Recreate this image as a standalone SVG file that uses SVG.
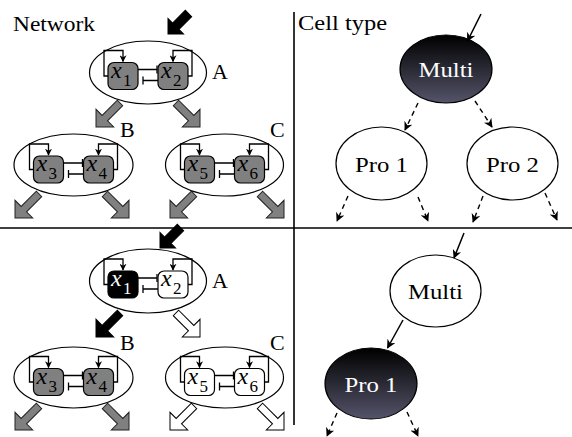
<svg xmlns="http://www.w3.org/2000/svg" xmlns:xlink="http://www.w3.org/1999/xlink" width="572" height="437" viewBox="0 0 572 437">
<style>
.lbl{font-size:22px;fill:#000}
.mx{font-style:italic;font-size:24px}
.sub{font-size:17px}
.mod{fill:#fff;stroke:#000;stroke-width:1.2}
.box{stroke:#000;stroke-width:1.2}
.gray{fill:#808080}
.blk{fill:#000}
.wht{fill:#fff}
.ln{fill:none;stroke:#000;stroke-width:1.3}
.fg{fill:#808080;stroke:#222;stroke-width:1}
.fb{fill:#000;stroke:#000;stroke-width:1}
.fw{fill:#fff;stroke:#000;stroke-width:1}
.dash{fill:none;stroke:#000;stroke-width:1.4;stroke-dasharray:5 4}
.sol{fill:none;stroke:#000;stroke-width:1.5}
.cell{stroke:#000;stroke-width:1.2}
.div{stroke:#000;stroke-width:1.6}
</style>
<defs>
<linearGradient id="dark" x1="0" y1="0" x2="0" y2="1">
<stop offset="0" stop-color="#000"/>
<stop offset="1" stop-color="#54546a"/>
</linearGradient>
<marker id="ah" viewBox="0 0 10 10" refX="9" refY="5" markerWidth="9" markerHeight="9" markerUnits="userSpaceOnUse" orient="auto">
<path d="M0,0 L10,5 L0,10 L3,5 Z" fill="#000"/>
</marker>
<marker id="sa" viewBox="0 0 10 10" refX="9" refY="5" markerWidth="7" markerHeight="7" markerUnits="userSpaceOnUse" orient="auto">
<path d="M0,0 L10,5 L0,10 L3,5 Z" fill="#000"/>
</marker>
<path id="fat" d="M-34,-3.8 L-12.5,-3.8 L-12.5,-12.5 L0,0 L-12.5,12.5 L-12.5,3.8 L-34,3.8 Z"/>
<path id="fatS" d="M-29,-4.5 L-11,-4.5 L-11,-11 L0,0 L-11,11 L-11,4.5 L-29,4.5 Z"/>
</defs>

<g id="dividers">
<line class="div" x1="0" y1="228" x2="572" y2="228"/>
<line class="div" x1="294" y1="12" x2="294" y2="425"/>
</g>

<g font-family="Liberation Serif, Noto Serif, DejaVu Serif, FreeSerif, Times, serif">
<text class="lbl" x="13" y="31" textLength="82" lengthAdjust="spacingAndGlyphs">Network</text>
<text class="lbl" x="298" y="30" textLength="89" lengthAdjust="spacingAndGlyphs">Cell type</text>

<g id="modA-top" transform="translate(148,72.5)">
<ellipse class="mod" cx="0" cy="0" rx="58.5" ry="31.5"/>
<rect class="box gray" x="-40" y="-10" width="30" height="27" rx="6"/>
<rect class="box gray" x="10" y="-10" width="30" height="27" rx="6"/>
<path class="ln" d="M-40,3.5 H-44 V-22 H-25 V-11" marker-end="url(#sa)"/>
<path class="ln" d="M40,3.5 H44 V-22 H25 V-11" marker-end="url(#sa)"/>
<path class="ln" d="M-10,-3 H9 M9,-7 V1"/>
<path class="ln" d="M10,8 H-5 M-5,4 V12"/>
<text class="mx" x="-37" y="5">x</text><text class="sub" x="-25" y="13">1</text>
<text class="mx" x="13" y="5">x</text><text class="sub" x="25" y="13">2</text>
<text class="lbl" x="64" y="6.5">A</text>
</g>

<g id="modB-top" transform="translate(73.5,165)">
<ellipse class="mod" cx="0" cy="0" rx="59.5" ry="31"/>
<rect class="box gray" x="-40" y="-9" width="30" height="27" rx="6"/>
<rect class="box gray" x="10" y="-9" width="30" height="27" rx="6"/>
<path class="ln" d="M-40,4.5 H-44 V-21 H-25 V-10" marker-end="url(#sa)"/>
<path class="ln" d="M40,4.5 H44 V-21 H25 V-10" marker-end="url(#sa)"/>
<path class="ln" d="M-10,-2 H9 M9,-6 V2"/>
<path class="ln" d="M10,9 H-5 M-5,5 V13"/>
<text class="mx" x="-37" y="6">x</text><text class="sub" x="-25" y="14">3</text>
<text class="mx" x="13" y="6">x</text><text class="sub" x="25" y="14">4</text>
<text class="lbl" x="46.5" y="-28">B</text>
</g>

<g id="modC-top" transform="translate(224.5,165)">
<ellipse class="mod" cx="0" cy="0" rx="59" ry="31"/>
<rect class="box gray" x="-40" y="-9" width="30" height="27" rx="6"/>
<rect class="box gray" x="10" y="-9" width="30" height="27" rx="6"/>
<path class="ln" d="M-40,4.5 H-44 V-21 H-25 V-10" marker-end="url(#sa)"/>
<path class="ln" d="M40,4.5 H44 V-21 H25 V-10" marker-end="url(#sa)"/>
<path class="ln" d="M-10,-2 H9 M9,-6 V2"/>
<path class="ln" d="M10,9 H-5 M-5,5 V13"/>
<text class="mx" x="-37" y="6">x</text><text class="sub" x="-25" y="14">5</text>
<text class="mx" x="13" y="6">x</text><text class="sub" x="25" y="14">6</text>
<text class="lbl" x="45.5" y="-28">C</text>
</g>

<g id="modA-bot" transform="translate(148,281)">
<ellipse class="mod" cx="0" cy="0" rx="58.5" ry="32"/>
<rect class="box blk" x="-40" y="-10" width="30" height="27" rx="6"/>
<rect class="box wht" x="10" y="-10" width="30" height="27" rx="6"/>
<path class="ln" d="M-40,3.5 H-44 V-22 H-25 V-11" marker-end="url(#sa)"/>
<path class="ln" d="M40,3.5 H44 V-22 H25 V-11" marker-end="url(#sa)"/>
<path class="ln" d="M-10,-3 H9 M9,-7 V1"/>
<path class="ln" d="M10,8 H-5 M-5,4 V12"/>
<text class="mx" x="-37" y="5" style="fill:#fff">x</text><text class="sub" x="-25" y="13" style="fill:#fff">1</text>
<text class="mx" x="13" y="5">x</text><text class="sub" x="25" y="13">2</text>
<text class="lbl" x="64" y="7">A</text>
</g>

<g id="modB-bot" transform="translate(73.5,377.5)">
<ellipse class="mod" cx="0" cy="0" rx="59.5" ry="30.5"/>
<rect class="box gray" x="-40" y="-9" width="30" height="27" rx="6"/>
<rect class="box gray" x="10" y="-9" width="30" height="27" rx="6"/>
<path class="ln" d="M-40,4.5 H-44 V-21 H-25 V-10" marker-end="url(#sa)"/>
<path class="ln" d="M40,4.5 H44 V-21 H25 V-10" marker-end="url(#sa)"/>
<path class="ln" d="M-10,-2 H9 M9,-6 V2"/>
<path class="ln" d="M10,9 H-5 M-5,5 V13"/>
<text class="mx" x="-37" y="6">x</text><text class="sub" x="-25" y="14">3</text>
<text class="mx" x="13" y="6">x</text><text class="sub" x="25" y="14">4</text>
<text class="lbl" x="46.5" y="-28">B</text>
</g>

<g id="modC-bot" transform="translate(224.5,377.5)">
<ellipse class="mod" cx="0" cy="0" rx="59" ry="30.5"/>
<rect class="box wht" x="-40" y="-9" width="30" height="27" rx="6"/>
<rect class="box wht" x="10" y="-9" width="30" height="27" rx="6"/>
<path class="ln" d="M-40,4.5 H-44 V-21 H-25 V-10" marker-end="url(#sa)"/>
<path class="ln" d="M40,4.5 H44 V-21 H25 V-10" marker-end="url(#sa)"/>
<path class="ln" d="M-10,-2 H9 M9,-6 V2"/>
<path class="ln" d="M10,9 H-5 M-5,5 V13"/>
<text class="mx" x="-37" y="6">x</text><text class="sub" x="-25" y="14">5</text>
<text class="mx" x="13" y="6">x</text><text class="sub" x="25" y="14">6</text>
<text class="lbl" x="45.5" y="-28">C</text>
</g>

<g id="multi-top">
<ellipse class="cell" cx="446" cy="69" rx="46" ry="34" fill="url(#dark)"/>
<text class="lbl" x="446" y="77" text-anchor="middle" style="fill:#fff" textLength="55" lengthAdjust="spacingAndGlyphs">Multi</text>
</g>
<g id="pro1-top">
<ellipse class="cell" cx="381.5" cy="163.5" rx="45.5" ry="36.5" fill="#fff"/>
<text class="lbl" x="381.5" y="172" text-anchor="middle" textLength="53" lengthAdjust="spacingAndGlyphs">Pro 1</text>
</g>
<g id="pro2-top">
<ellipse class="cell" cx="512.5" cy="163.5" rx="45.5" ry="36.5" fill="#fff"/>
<text class="lbl" x="512.5" y="172" text-anchor="middle" textLength="53" lengthAdjust="spacingAndGlyphs">Pro 2</text>
</g>
<g id="multi-bot">
<ellipse class="cell" cx="435.5" cy="291" rx="45.5" ry="36" fill="#fff"/>
<text class="lbl" x="435.5" y="299" text-anchor="middle" textLength="55" lengthAdjust="spacingAndGlyphs">Multi</text>
</g>
<g id="pro1-bot">
<ellipse class="cell" cx="371" cy="383.5" rx="46" ry="35.5" fill="url(#dark)"/>
<text class="lbl" x="371" y="392" text-anchor="middle" style="fill:#fff" textLength="53" lengthAdjust="spacingAndGlyphs">Pro 1</text>
</g>
</g>

<g id="net-arrows">
<use xlink:href="#fatS" class="fb" transform="translate(168,34) rotate(135)"/>
<use xlink:href="#fat" class="fg" transform="translate(96,127) rotate(135)"/>
<use xlink:href="#fat" class="fg" transform="translate(200,127) rotate(45)"/>
<use xlink:href="#fat" class="fg" transform="translate(15,218) rotate(135)"/>
<use xlink:href="#fat" class="fg" transform="translate(129,218) rotate(45)"/>
<use xlink:href="#fat" class="fg" transform="translate(170,218) rotate(135)"/>
<use xlink:href="#fat" class="fg" transform="translate(284,218) rotate(45)"/>
<use xlink:href="#fatS" class="fb" transform="translate(160,248) rotate(135)"/>
<use xlink:href="#fat" class="fb" transform="translate(96,337) rotate(135)"/>
<use xlink:href="#fat" class="fw" transform="translate(200,337) rotate(45)"/>
<use xlink:href="#fat" class="fg" transform="translate(15,430) rotate(135)"/>
<use xlink:href="#fat" class="fg" transform="translate(129,430) rotate(45)"/>
<use xlink:href="#fat" class="fw" transform="translate(170,430) rotate(135)"/>
<use xlink:href="#fat" class="fw" transform="translate(284,430) rotate(45)"/>
</g>

<g id="cell-connectors">
<line class="sol" x1="481" y1="14" x2="467.5" y2="41" marker-end="url(#ah)"/>
<line class="dash" x1="418" y1="103" x2="405" y2="130" marker-end="url(#ah)"/>
<line class="dash" x1="475" y1="101" x2="492" y2="127" marker-end="url(#ah)"/>
<line class="dash" x1="348" y1="196" x2="337" y2="221" marker-end="url(#ah)"/>
<line class="dash" x1="418" y1="197" x2="428" y2="221" marker-end="url(#ah)"/>
<line class="dash" x1="483" y1="196" x2="473" y2="222" marker-end="url(#ah)"/>
<line class="dash" x1="545" y1="193" x2="557" y2="220" marker-end="url(#ah)"/>
<line class="sol" x1="464" y1="233" x2="454" y2="258" marker-end="url(#ah)"/>
<line class="sol" x1="403" y1="320" x2="387.5" y2="348" marker-end="url(#ah)"/>
<line class="dash" x1="337" y1="413" x2="327" y2="436" marker-end="url(#ah)"/>
<line class="dash" x1="407" y1="412" x2="418" y2="436" marker-end="url(#ah)"/>
</g>
</svg>
